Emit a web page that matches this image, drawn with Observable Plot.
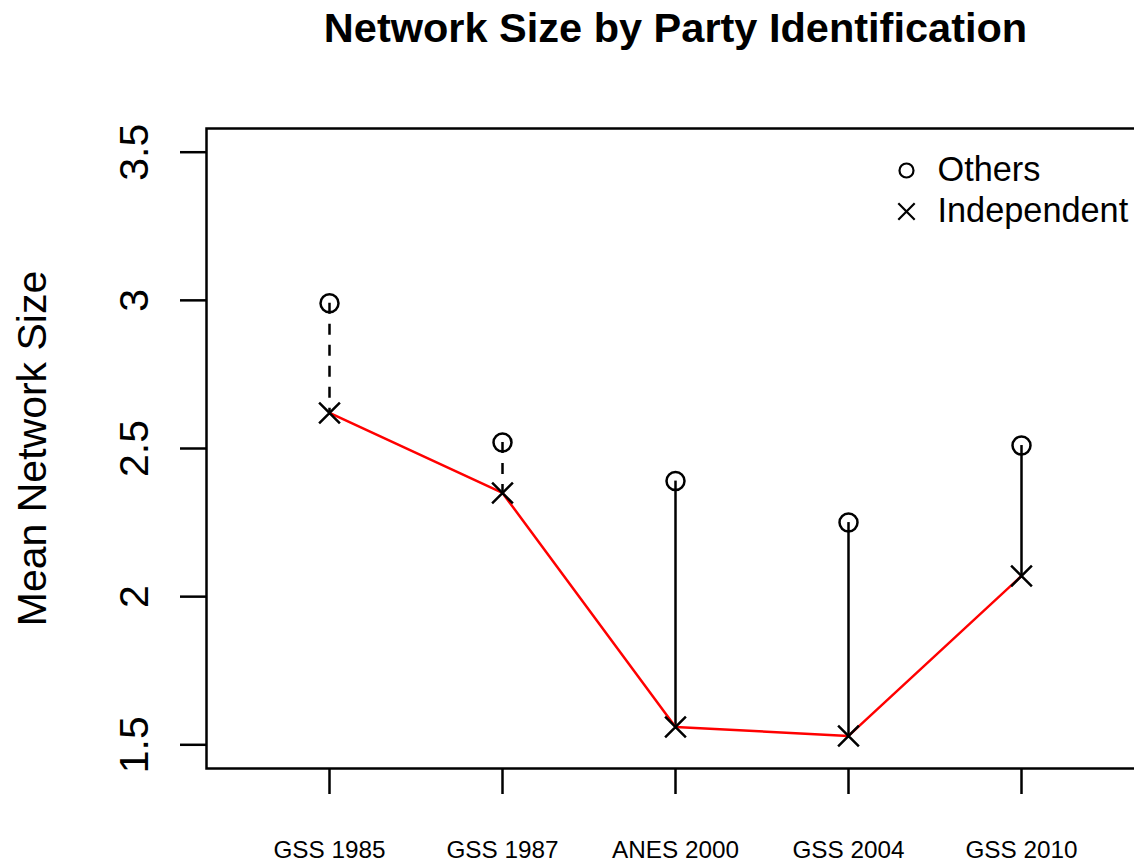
<!DOCTYPE html>
<html>
<head>
<meta charset="utf-8">
<script src="https://cdn.jsdelivr.net/npm/d3@7"></script>
<script src="https://cdn.jsdelivr.net/npm/@observablehq/plot@0.6"></script>
<style>
  html, body { margin: 0; padding: 0; background: white; overflow: hidden; }
  #chart { width: 1134px; height: 863px; overflow: hidden; }
</style>
</head>
<body>
<div id="chart"></div>
<script>
const surveys = ["GSS 1985", "GSS 1987", "ANES 2000", "GSS 2004", "GSS 2010"];
const others = [2.99, 2.52, 2.39, 2.25, 2.51];
const independent = [2.62, 2.35, 1.56, 1.53, 2.07];
const significant = [false, false, true, true, true];
const yTicks = [1.5, 2, 2.5, 3, 3.5];
const seriesNames = ["Others", "Independent"];
const titleText = "Network Size by Party Identification";
const yLabel = "Mean Network Size";

const rows = surveys.map((s, i) => ({
  survey: s, others: others[i], independent: independent[i], significant: significant[i]
}));

const LW = 2.5;

const chart = Plot.plot({
  width: 1144,
  height: 863,
  marginLeft: 206,
  marginRight: 0,
  marginTop: 128,
  marginBottom: 95,
  style: { fontFamily: "'Liberation Sans', Arial, Helvetica, sans-serif", fontSize: "24px", background: "white", color: "black", maxWidth: "none", overflow: "hidden" },
  x: { type: "point", domain: surveys, padding: 0.7 },
  y: { domain: [1.42, 3.58] },
  marks: [
    Plot.frame({ stroke: "black", strokeWidth: LW }),
    Plot.axisX({ tickSize: 26, tickPadding: 46, fontSize: 24.3, strokeWidth: LW, label: null }),
    Plot.axisY({ ticks: yTicks, tickSize: 26, tickFormat: () => "", strokeWidth: LW, label: null }),
    Plot.text(yTicks, { y: d => d, text: d => String(d), frameAnchor: "left", dx: -72, rotate: -90, fontSize: 41, textAnchor: "middle", lineAnchor: "middle" }),
    Plot.text([yLabel], { text: d => d, frameAnchor: "left", dx: -173.5, rotate: -90, fontSize: 41, textAnchor: "middle", lineAnchor: "middle" }),
    Plot.text([titleText], { text: d => d, frameAnchor: "top", dy: -100, fontSize: 41.5, fontWeight: "bold", lineAnchor: "middle" }),
    Plot.ruleX(rows.filter(d => !d.significant), { x: "survey", y1: "others", y2: "independent", stroke: "black", strokeWidth: LW, strokeDasharray: "11 10" }),
    Plot.ruleX(rows.filter(d => d.significant), { x: "survey", y1: "others", y2: "independent", stroke: "black", strokeWidth: LW }),
    Plot.line(rows, { x: "survey", y: "independent", stroke: "#ff0000", strokeWidth: LW }),
    Plot.dot(rows, { x: "survey", y: "others", r: 9, stroke: "black", fill: "none", strokeWidth: LW }),
    Plot.dot(rows, { x: "survey", y: "independent", symbol: "times", r: 9.5, stroke: "black", strokeWidth: LW }),
    Plot.dot([seriesNames[0]], { frameAnchor: "top-right", dx: -238, dy: 42, r: 7, stroke: "black", fill: "none", strokeWidth: 2.2 }),
    Plot.dot([seriesNames[1]], { frameAnchor: "top-right", dx: -238, dy: 83, symbol: "times", r: 7.5, stroke: "black", strokeWidth: 2.2 }),
    Plot.text([seriesNames[0]], { text: d => d, frameAnchor: "top-right", dx: -207, dy: 42, textAnchor: "start", lineAnchor: "middle", fontSize: 34.3 }),
    Plot.text([seriesNames[1]], { text: d => d, frameAnchor: "top-right", dx: -207, dy: 83, textAnchor: "start", lineAnchor: "middle", fontSize: 34.3 })
  ]
});
document.getElementById("chart").appendChild(chart);
</script>
</body>
</html>
